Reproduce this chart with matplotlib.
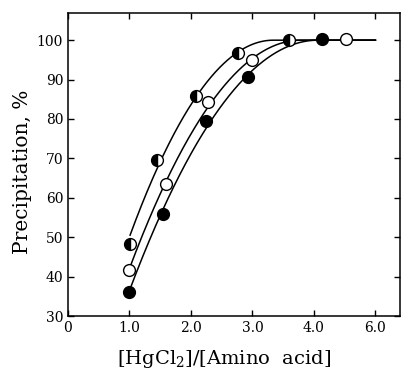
import numpy as np
import matplotlib
matplotlib.use("Agg")
import matplotlib.pyplot as plt

plt.rcParams['font.family'] = ['DejaVu Serif']
plt.rcParams['mathtext.fontset'] = 'dejavuserif'

# data (x in axis units; tick label "6.0" sits at position 5)
x_half = [1.01, 1.45, 2.08, 2.76, 3.59]
y_half = [48.3, 69.6, 85.8, 96.7, 100.0]
x_open = [1.00, 1.59, 2.28, 2.99, 4.52]
y_open = [41.7, 63.5, 84.3, 94.9, 100.2]
x_fill = [1.00, 1.54, 2.24, 2.93, 4.13]
y_fill = [36.1, 55.9, 79.5, 90.6, 100.2]

xtick_pos = [0, 1, 2, 3, 4, 5]
xtick_labels = ['0', '1.0', '2.0', '3.0', '4.0', '6.0']
ytick_vals = [30, 40, 50, 60, 70, 80, 90, 100]


def fit_curve(xs, ys, xend=5.0):
    xs = np.asarray(xs, float)
    ys = np.asarray(ys, float)
    m = ys < 99.5
    r = np.sqrt(np.clip(100 - ys[m], 0, None))
    slope, icpt = np.polyfit(xs[m], r, 1)
    x0 = -icpt / slope
    xx = np.linspace(xs.min(), xend, 300)
    yy = np.where(xx < x0, 100 - (slope * (xx - x0)) ** 2, 100)
    return xx, yy


fig = plt.figure(figsize=(4.01, 3.73), dpi=100)
ax = fig.add_axes([68 / 401, 1 - 316 / 373, 332 / 401, 303 / 373])

for xs, ys in [(x_half, y_half), (x_open, y_open), (x_fill, y_fill)]:
    xx, yy = fit_curve(xs, ys)
    ax.plot(xx, yy, color='black', lw=1.1, zorder=2)

ms = 8.5
ax.plot(x_half, y_half, 'o', ms=ms, mec='black', mfc='black', fillstyle='left',
        markerfacecoloralt='white', mew=1.0, zorder=3)
ax.plot(x_open, y_open, 'o', ms=ms, mec='black', mfc='white', mew=1.0, zorder=3)
ax.plot(x_fill, y_fill, 'o', ms=ms, mec='black', mfc='black', mew=1.0, zorder=3)

ax.set_xlim(0, 5.4)
ax.set_ylim(30, 106.9)
ax.set_xticks(xtick_pos)
ax.set_xticklabels(xtick_labels)
ax.set_yticks(ytick_vals)
ax.tick_params(direction='in', top=True, right=True, labelsize=10, length=4, width=1)
for s in ax.spines.values():
    s.set_linewidth(1.1)

ax.set_ylabel('Precipitation, %', fontsize=14.5)
ax.set_xlabel('[HgCl$_2$]/[Amino  acid]', fontsize=14)
ax.yaxis.set_label_coords(-0.108, 0.475)
ax.xaxis.set_label_coords(0.47, -0.105)

fig.savefig('out.png', dpi=100)
